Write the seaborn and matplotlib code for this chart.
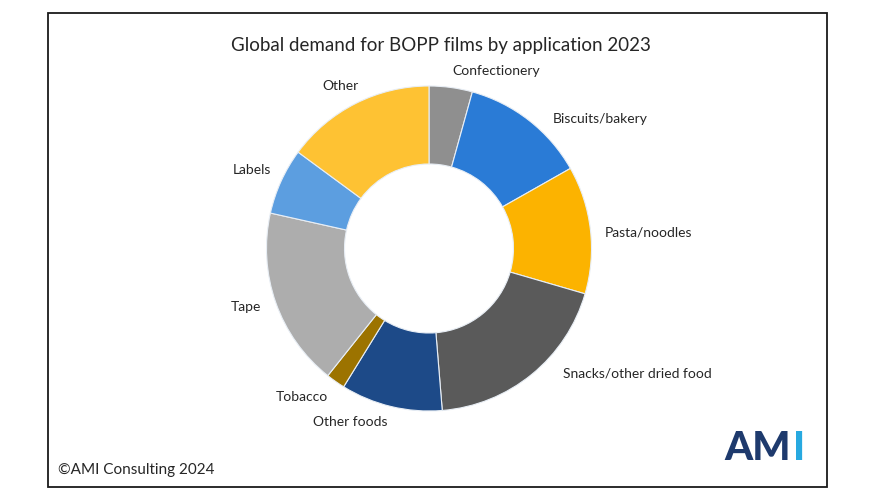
import numpy as np
import matplotlib
matplotlib.use("Agg")
import matplotlib.pyplot as plt
from matplotlib.patches import Rectangle
import seaborn as sns

categories = ["Confectionery", "Biscuits/bakery", "Pasta/noodles",
              "Snacks/other dried food", "Other foods", "Tobacco",
              "Tape", "Labels", "Other"]
shares = [4.3, 12.5, 12.7, 19.2, 10.1, 1.9, 17.8, 6.6, 14.9]

title = "Global demand for BOPP films by application 2023"
source = "\u00a9AMI Consulting 2024"

sns.set_theme(style="white")
plt.rcParams["font.family"] = ["Lato", "DejaVu Sans"]

colors = ["#8f8f8f", "#2a7bd6", "#fcb300", "#5a5a5a", "#1d4a88",
          "#9c7300", "#adadad", "#5c9ee0", "#fec233"]

# label placement: distance from centre (px) and angle nudge from wedge middle (deg)
label_dist = [190, 215, 220, 243, 191, 195, 192, 194, 185]
label_shift = [13, 15, 2.4, -19.7, 11, 5.5, 1.8, -0.5, -1.8]

W, H = 875, 500
R = 162.5  # outer radius in px
cx, cy = 429, 248.5

fig = plt.figure(figsize=(W / 100, H / 100), dpi=100)
fig.patch.set_facecolor("white")

xr, yr = 1.6, 1.45
ax = fig.add_axes([(cx - xr * R) / W, (H - cy - yr * R) / H,
                   2 * xr * R / W, 2 * yr * R / H])
wedges, _ = ax.pie(shares, colors=colors, startangle=90, counterclock=False,
                   wedgeprops=dict(width=0.48, edgecolor="#e8eef5", linewidth=0.8))
ax.set_xlim(-xr, xr)
ax.set_ylim(-yr, yr)
ax.set_aspect("equal", adjustable="box")
ax.axis("off")

for w, name, d, s in zip(wedges, categories, label_dist, label_shift):
    mid = (w.theta1 + w.theta2) / 2 - s
    r = d / R
    ax.text(r * np.cos(np.radians(mid)), r * np.sin(np.radians(mid)), name,
            ha="center", va="center", fontsize=10, color="#262626")

# frame around the whole graphic
fig.patches.append(Rectangle((48 / W, 1 - 487 / H), (827 - 48) / W, (487 - 13) / H,
                             transform=fig.transFigure, fill=False,
                             edgecolor="#1a1a1a", linewidth=1.3))

fig.text(441 / W, 1 - 45 / H, title, ha="center", va="center",
         fontsize=13.5, color="#262626")
fig.text(58 / W, 1 - 470 / H, source, ha="left", va="center",
         fontsize=11, color="#262626")

# AMI logo as text: "AM" navy, "I" cyan placed right after it
am = fig.text(724 / W, 1 - 449 / H, "AM", ha="left", va="center", fontsize=29,
              fontweight="black", color="#1e3a6d")
fig.canvas.draw()
bb = am.get_window_extent(renderer=fig.canvas.get_renderer())
fig.text(bb.x1 / W + 2 / W, 1 - 449 / H, "I", ha="left", va="center", fontsize=29,
         fontweight="black", color="#27a9e0")

fig.savefig("out.png", dpi=100, facecolor="white")
